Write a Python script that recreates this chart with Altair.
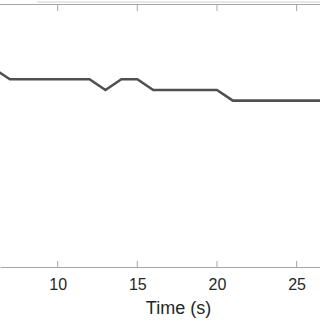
import altair as alt
import pandas as pd

# Data
times = [6, 7, 8, 9, 10, 11, 12, 13, 14, 15, 16, 17, 18, 19, 20, 21, 22, 23, 24, 25, 26, 27]
values = [18.1, 17.13, 17.13, 17.13, 17.13, 17.13, 17.13, 16.15, 17.13, 17.13,
          16.15, 16.15, 16.15, 16.15, 16.15, 15.18, 15.18, 15.18, 15.18, 15.18, 15.18, 15.18]
x_ticks = [10, 15, 20, 25]
x_domain = [6.38, 26.47]
y_domain = [0, 24]

df = pd.DataFrame({"t": times, "v": values})
ticks_df = pd.DataFrame({"t": x_ticks})

W, H = 320, 263
FONT = "Liberation Sans"

xscale = alt.Scale(domain=x_domain, nice=False, zero=False)
yscale = alt.Scale(domain=y_domain, nice=False, zero=False)

xaxis = alt.Axis(
    values=x_ticks, title="Time (s)", tickSize=0, grid=False,
    domainColor="#a6a6a6", domainWidth=1,
    labelFont=FONT, labelFontSize=16, labelColor="#262626", labelPadding=9,
    titleFont=FONT, titleFontSize=18, titleFontWeight="normal", titleColor="#262626",
    titleX=178, titleY=46, titleBaseline="alphabetic",
)

line = alt.Chart(df).mark_line(color="#505050", strokeWidth=2.6, clip=True).encode(
    x=alt.X("t:Q", scale=xscale, axis=xaxis),
    y=alt.Y("v:Q", scale=yscale, axis=None),
)

bottom_ticks = alt.Chart(ticks_df).mark_rule(color="#a6a6a6", strokeWidth=1).encode(
    x=alt.X("t:Q", scale=xscale, axis=xaxis),
    y=alt.value(H - 6),
    y2=alt.value(H),
)

top_ticks = alt.Chart(ticks_df).mark_rule(color="#a6a6a6", strokeWidth=1).encode(
    x=alt.X("t:Q", scale=xscale, axis=xaxis),
    y=alt.value(0),
    y2=alt.value(7),
)

top_frame = alt.Chart(ticks_df).mark_rule(color="#a6a6a6", strokeWidth=1).encode(
    x=alt.value(0), x2=alt.value(W), y=alt.value(0.5),
)

legend_edge = alt.Chart(ticks_df).mark_rule(color="#e6e6e6", strokeWidth=1, clip=False).encode(
    x=alt.value(37), x2=alt.value(W), y=alt.value(-2),
)

chart = alt.layer(legend_edge, top_frame, top_ticks, bottom_ticks, line).properties(
    width=W, height=H,
    autosize=alt.AutoSizeParams(type="none"),
    padding={"left": 0, "top": 4, "right": 0, "bottom": 53},
    background="white",
).configure_view(strokeWidth=0)

chart.save("out.html", embed_options={"renderer": "svg", "actions": False})
